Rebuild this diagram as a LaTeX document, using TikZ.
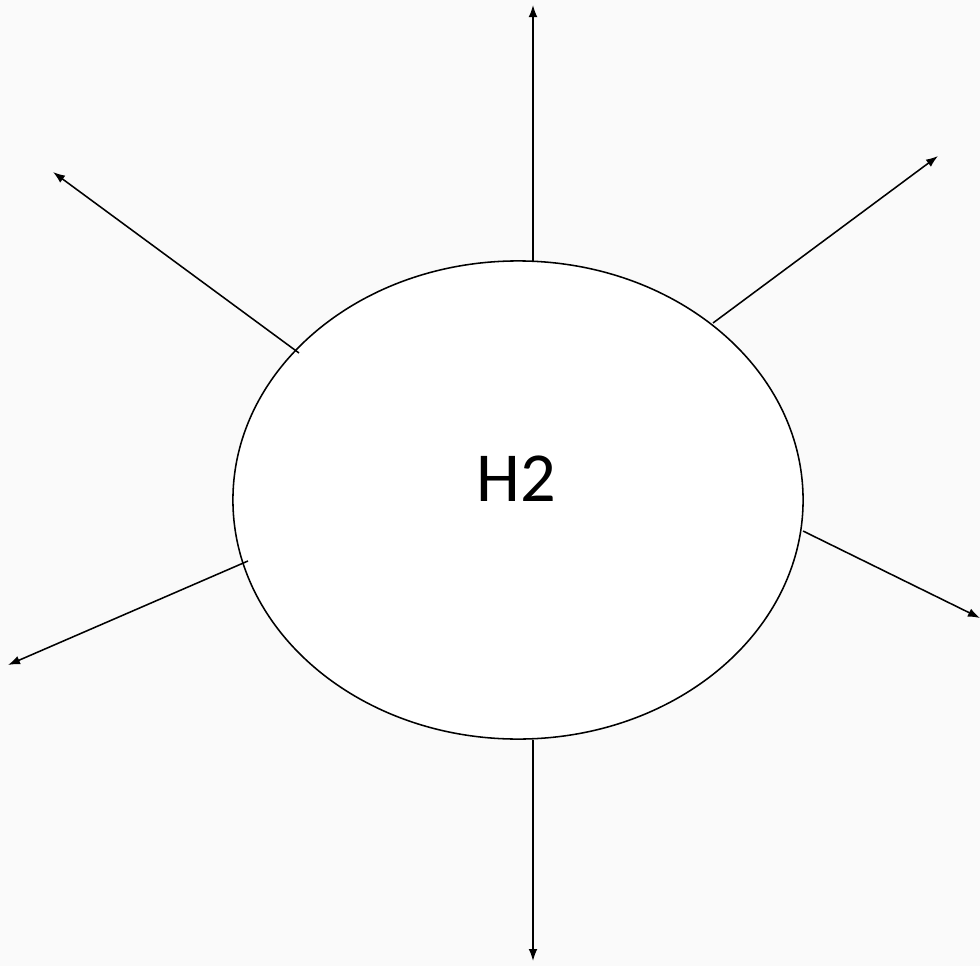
\documentclass[tikz,border=0pt]{standalone}
\usepackage{fontspec}
\setmainfont{Carlito}
\usetikzlibrary{positioning,shapes.geometric,arrows.meta}
\tikzset{
  molecule/.style={draw, ellipse, fill=white, inner sep=0pt, line width=1.1pt, minimum width=14.25cm, minimum height=11.95cm},
  ray/.style={line width=1.1pt, -{Latex[length=3mm, width=2.2mm]}},
}

\begin{document}
\begin{tikzpicture}[x=0.025cm, y=-0.025cm]

% --- page frame ---
\path[fill=black!2] (0,0) rectangle (980,966);
\useasboundingbox (0,0) rectangle (980,966);

% --- the molecule ---
\node (h2) [molecule] at (518,500) {};
\node (lbl) at (516,479) {\fontsize{50}{50}\selectfont H2};

% --- ray ends ---
\coordinate (nE) at (533,5);
\coordinate (sE) at (533,961);
\coordinate (nwE) at (53,172);
\coordinate (neE) at (938,156);
\coordinate (swE) at (8,665);
\coordinate (seE) at (980,618);

% --- ray starts on the rim ---
\coordinate (nS) at (533,261);
\coordinate (sS) at (533,740);
\coordinate (nwS) at (299,353);
\coordinate (neS) at (713,323);
\coordinate (swS) at (248,561);
\coordinate (seS) at (803,531);

% --- rays ---
\draw[ray] (nS) -- (nE);
\draw[ray] (sS) -- (sE);
\draw[ray] (nwS) -- (nwE);
\draw[ray] (neS) -- (neE);
\draw[ray] (swS) -- (swE);
\draw[ray] (seS) -- (seE);

\end{tikzpicture}
\end{document}
